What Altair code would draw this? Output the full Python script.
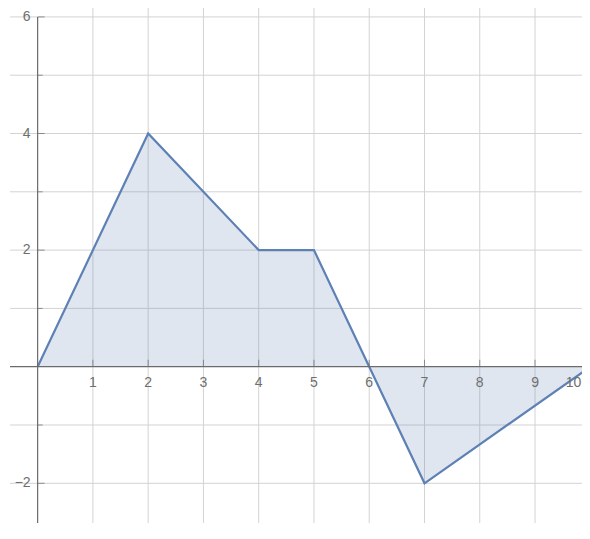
import altair as alt
import pandas as pd

# data
xs = [0, 2, 4, 5, 6, 7, 10]
ys = [0, 4, 2, 2, 0, -2, 0]
x_grid = [1, 2, 3, 4, 5, 6, 7, 8, 9, 10]
x_tick_labels = ["1", "2", "3", "4", "5", "6", "7", "8", "9", "10"]
y_grid = [-2, -1, 1, 2, 3, 4, 5, 6]
y_label_vals = [6, 4, 2, -2]
y_label_text = ["6", "4", "2", "\u22122"]
y_major = [-2, 2, 4, 6]
y_minor = [-1, 1, 3, 5]

X_DOM = [-0.5, 9.85]
Y_DOM = [-2.681, 6.153]

xs_scale = alt.Scale(domain=X_DOM, nice=False, zero=False)
ys_scale = alt.Scale(domain=Y_DOM, nice=False, zero=False)

def X(f):
    return alt.X(f, type="quantitative", scale=xs_scale, axis=None)

def Y(f):
    return alt.Y(f, type="quantitative", scale=ys_scale, axis=None)

df = pd.DataFrame({"x": xs, "y": ys, "zero": [0] * len(xs)})
gx = pd.DataFrame({"x": x_grid, "y": [0] * len(x_grid), "lab": x_tick_labels})
gy = pd.DataFrame({"y": y_grid})
ylab = pd.DataFrame({"x": [0] * len(y_label_vals), "y": y_label_vals, "lab": y_label_text})
ymaj = pd.DataFrame({"x": [0] * len(y_major), "y": y_major})
ymin = pd.DataFrame({"x": [0] * len(y_minor), "y": y_minor})
xaxis = pd.DataFrame({"x": [X_DOM[0]], "x2": [X_DOM[1]], "y": [0]})
yaxis = pd.DataFrame({"x": [0], "y": [Y_DOM[0]], "y2": [6]})

GRID = "#d3d3d3"
AXIS = "#6b6b6b"
LBL = "#6e6e6e"
BLUE = "#5e81b5"
FONT = "Liberation Sans"
FS = 14

vgrid = alt.Chart(gx).mark_rule(color=GRID, strokeWidth=1).encode(x=X("x"))
hgrid = alt.Chart(gy).mark_rule(color=GRID, strokeWidth=1).encode(y=Y("y"))

area = alt.Chart(df).mark_area(color=BLUE, opacity=0.2, clip=True).encode(
    x=X("x"), y=Y("y"), y2=alt.Y2("zero"))
line = alt.Chart(df).mark_line(color=BLUE, strokeWidth=2.2, clip=True).encode(
    x=X("x"), y=Y("y"))

xline = alt.Chart(xaxis).mark_rule(color=AXIS, strokeWidth=1.2).encode(
    x=X("x"), x2=alt.X2("x2"), y=Y("y"))
yline = alt.Chart(yaxis).mark_rule(color=AXIS, strokeWidth=1.2).encode(
    x=X("x"), y=Y("y"), y2=alt.Y2("y2"))

xticks = alt.Chart(gx).mark_tick(orient="vertical", size=7, yOffset=-3.5,
                                 color=AXIS, thickness=1, clip=True).encode(x=X("x"), y=Y("y"))
yticks_major = alt.Chart(ymaj).mark_tick(orient="horizontal", size=7, xOffset=3.5,
                                         color=AXIS, thickness=1).encode(x=X("x"), y=Y("y"))
yticks_minor = alt.Chart(ymin).mark_tick(orient="horizontal", size=5, xOffset=2.5,
                                         color=AXIS, thickness=1).encode(x=X("x"), y=Y("y"))

xlabels = alt.Chart(gx).transform_filter("datum.x < 10").mark_text(
    dy=16, align="center", baseline="middle",
    font=FONT, fontSize=FS, color=LBL).encode(
    x=X("x"), y=Y("y"), text="lab:N")
# last label sits at the page's right edge, kept fully visible
xlabel_last = alt.Chart(gx).transform_filter("datum.x == 10").mark_text(
    dy=16, dx=-9, align="right", baseline="middle",
    font=FONT, fontSize=FS, color=LBL).encode(
    x=X("x"), y=Y("y"), text="lab:N")
ylabels = alt.Chart(ylab).mark_text(dx=-7, align="right", baseline="middle",
                                    font=FONT, fontSize=FS, color=LBL).encode(
    x=X("x"), y=Y("y"), text="lab:N")

chart = alt.layer(
    vgrid, hgrid, area, line, xline, yline, xticks, yticks_major, yticks_minor,
    xlabels, xlabel_last, ylabels
).properties(
    width=572, height=515,
    padding={"left": 2, "top": 0, "right": 0, "bottom": 0},
    autosize=alt.AutoSizeParams(type="none"),
).configure_view(stroke=None)

chart.save("out.html", embed_options={"renderer": "svg", "actions": False})
